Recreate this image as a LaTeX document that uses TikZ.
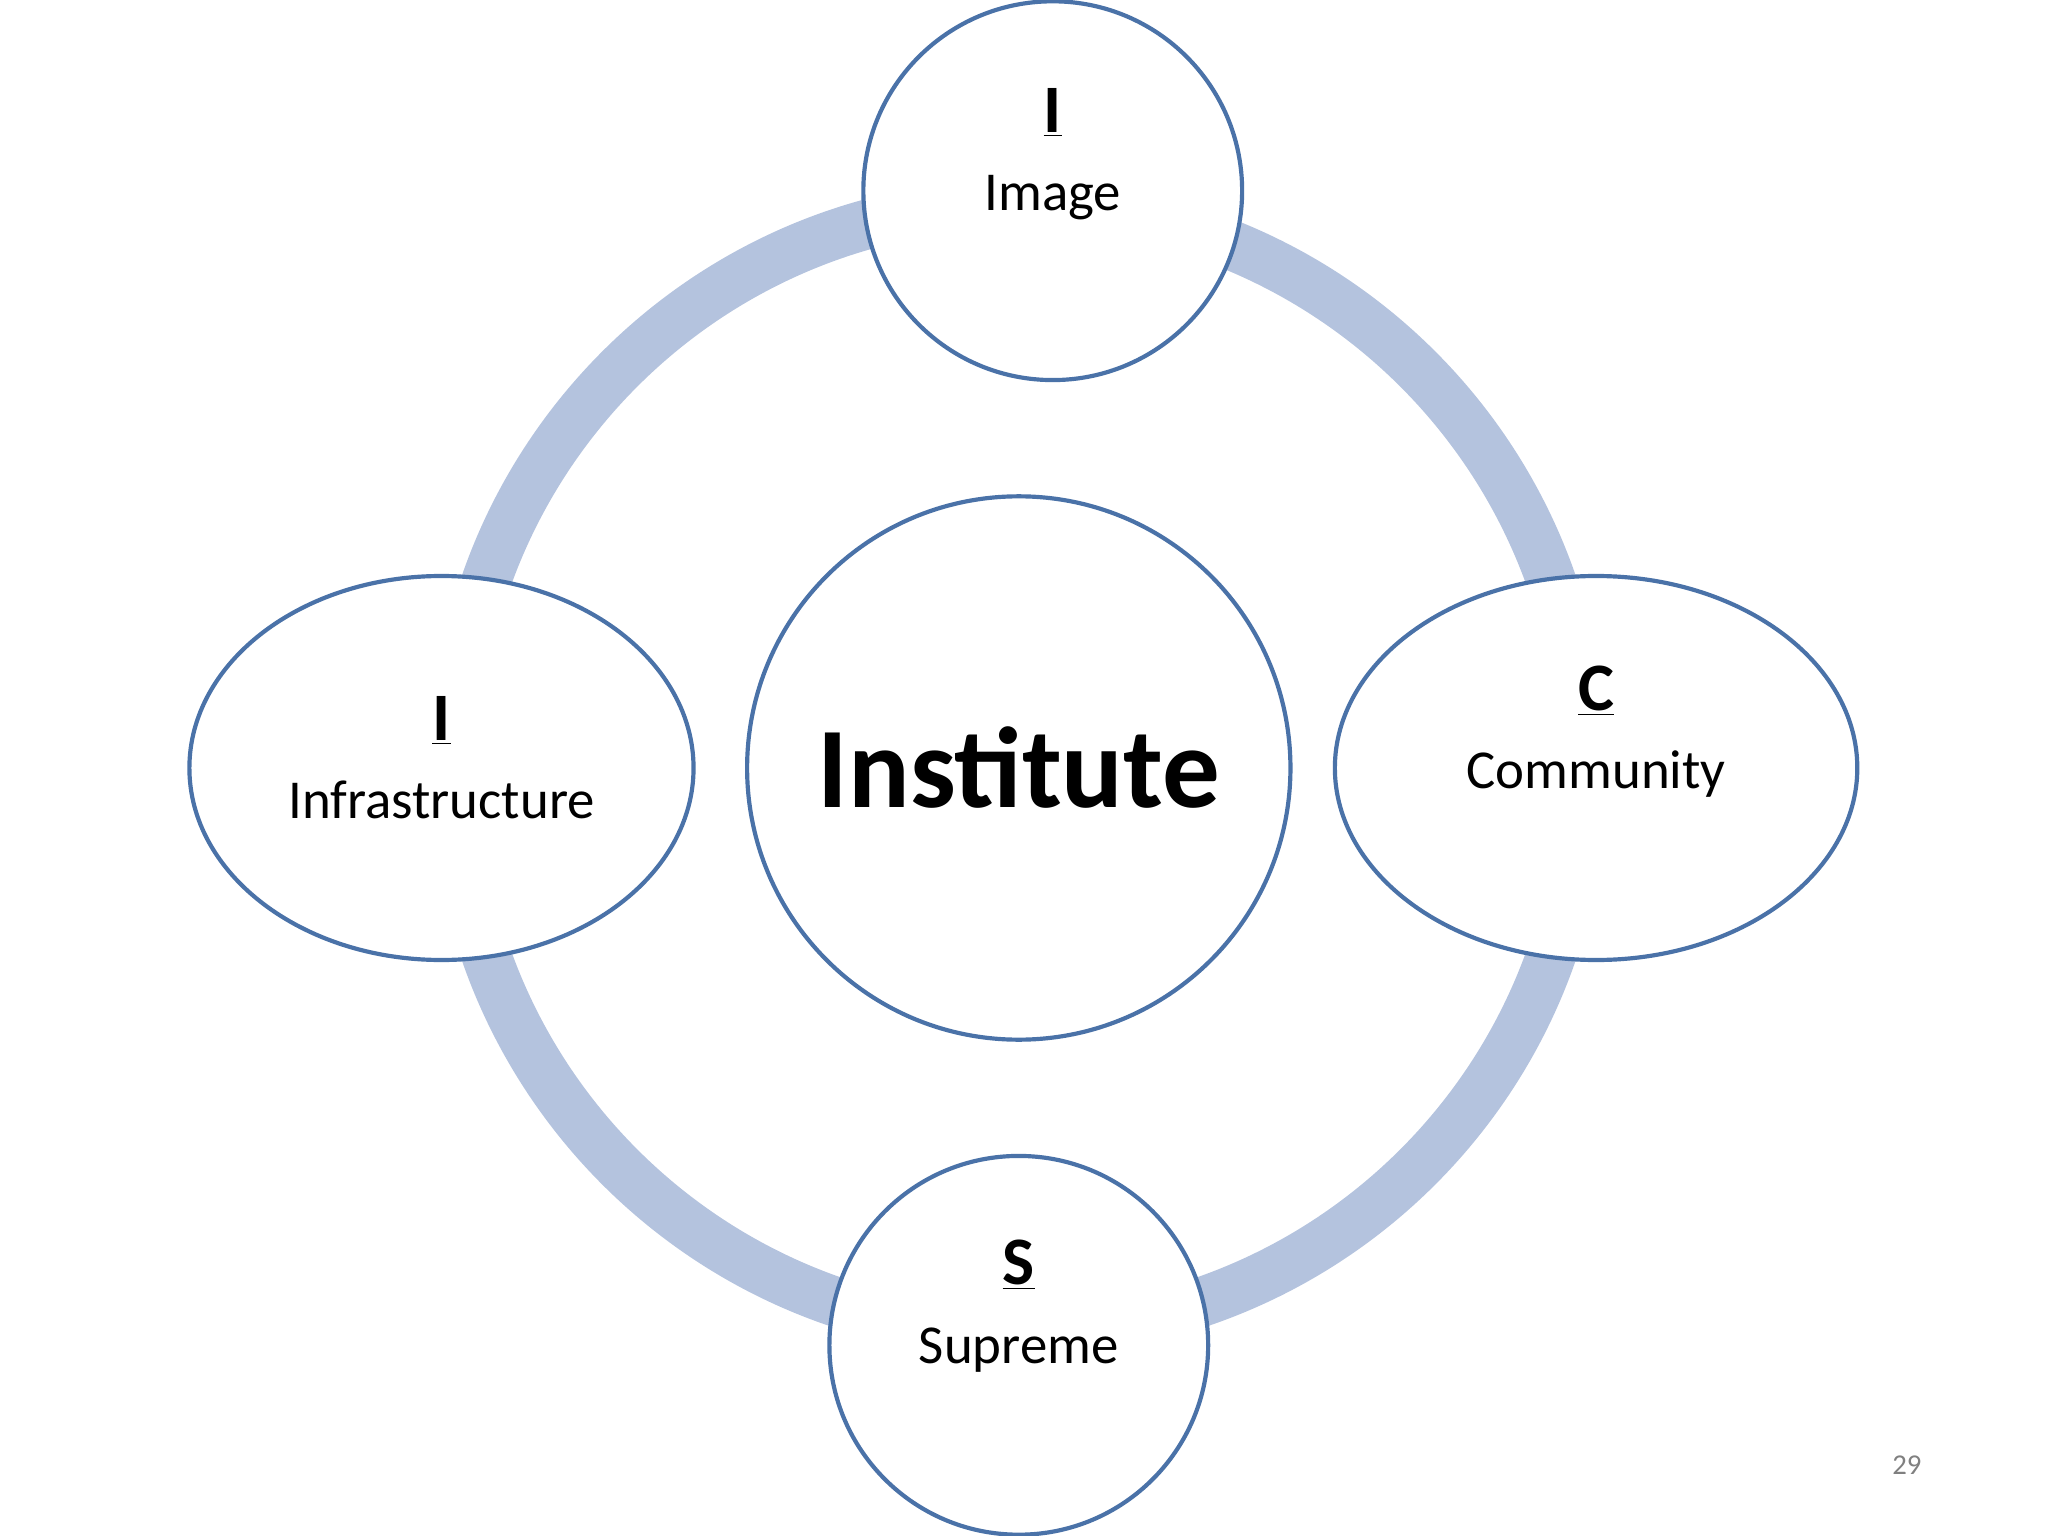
\documentclass[tikz,border=0pt]{standalone}
\usepackage{fontspec}
\setmainfont{Carlito}
\usetikzlibrary{shapes.geometric}
\definecolor{ring}{HTML}{B4C3DE}
\definecolor{edge}{HTML}{4A72A8}
\begin{document}
\begin{tikzpicture}[x=0.5pt,y=-0.5pt,
  item/.style={draw=edge,line width=1.6pt,fill=white,inner sep=0pt},
  lab/.style={align=center,font=\fontsize{21}{30}\selectfont}]
\useasboundingbox (0,0) rectangle (1568,1176);
\coordinate (c0) at (780,588);
\draw[ring,line width=19pt] (c0) circle[radius=432];
\node[item,circle,minimum size=208pt] (center) at (780,588) {};
\node[font=\bfseries\fontsize{44}{50}\selectfont] (ct) at (780,588) {Institute};
\node[item,circle,minimum size=145pt] (top) at (806,146) {};
\node[item,circle,minimum size=145pt] (bot) at (780,1030) {};
\node[item,ellipse,minimum width=193pt,minimum height=147pt] (left) at (338,588) {};
\node[item,ellipse,minimum width=200pt,minimum height=147pt] (right) at (1222,588) {};
\node[lab] at (806,118) {{\bfseries\fontsize{26}{32}\selectfont\underline{I}}\\Image};
\node[lab] at (338,580) {{\bfseries\fontsize{26}{32}\selectfont\underline{I}}\\Infrastructure};
\node[lab] at (1222,560) {{\bfseries\fontsize{26}{32}\selectfont\underline{C}}\\Community};
\node[lab] at (780,1000) {{\bfseries\fontsize{26}{32}\selectfont\underline{S}}\\Supreme};
\node[font=\fontsize{11}{13}\selectfont,text=gray] at (1460,1122) {29};
\end{tikzpicture}
\end{document}
